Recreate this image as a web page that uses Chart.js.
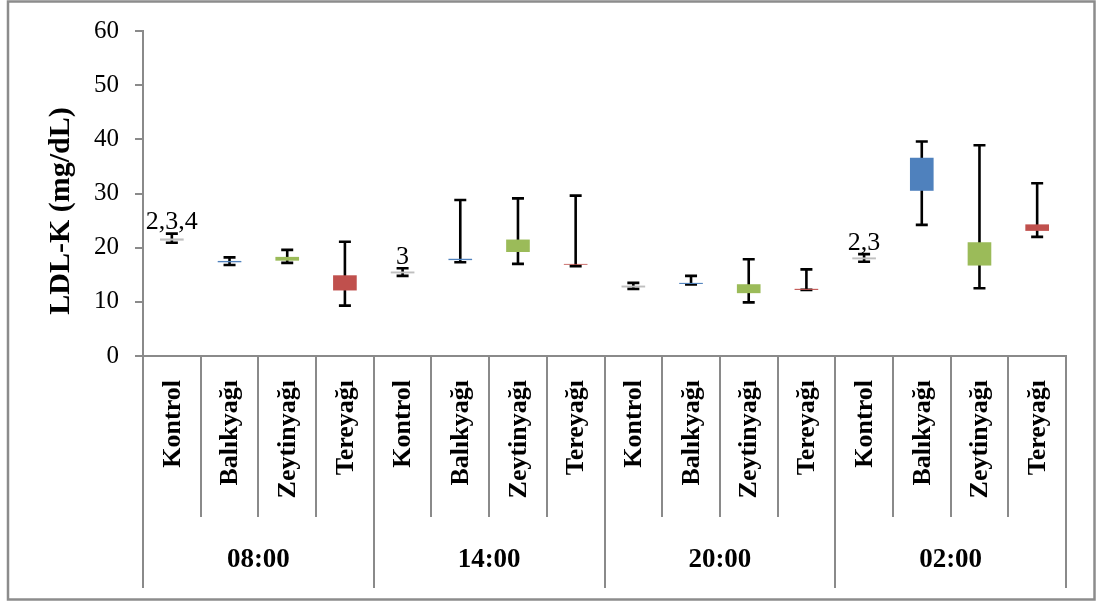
<!DOCTYPE html>
<html><head><meta charset="utf-8">
<script src="https://cdn.jsdelivr.net/npm/chart.js@4"></script>
<style>html,body{margin:0;padding:0;background:#fff}#wrap{width:1096px;height:603px;position:relative}canvas{display:block}</style>
</head><body><div id="wrap"><canvas id="c" width="1096" height="603" style="width:1096px;height:603px"></canvas></div>
<script>
// ---- data ----
const groups = ['08:00', '14:00', '20:00', '02:00'];
const treatments = ['Kontrol', 'Balıkyağı', 'Zeytinyağı', 'Tereyağı'];
const categories = groups.flatMap(g => treatments.map(t => t + ' ' + g));
// box (lower/upper edge of the coloured box)
const boxLow  = [21.3, 17.3, 17.6, 12.1,  15.25, 17.7, 19.2, 16.85,  12.65, 13.3, 11.6, 12.2,  17.85, 30.5, 16.7, 23.1];
const boxHigh = [21.7, 17.55, 18.3, 14.9, 15.6, 17.95, 21.5, 17.0,   13.0, 13.5, 13.25, 12.4,  18.2, 36.6, 21.0, 24.3];
// whiskers (min / max)
const whiskerMin = [20.9, 16.8, 17.2, 9.3,  14.8, 17.3, 17.0, 16.6,  12.4, 13.2, 9.9, 12.2,  17.4, 24.2, 12.5, 22.0];
const whiskerMax = [22.6, 18.2, 19.6, 21.1, 16.2, 28.8, 29.1, 29.6,  13.5, 14.8, 17.85, 16.0, 18.8, 39.6, 38.9, 31.9];
const annotations = ['2,3,4', '', '', '', '3', '', '', '', '', '', '', '', '2,3', '', '', ''];
const treatmentColors = ['#BFBFBF', '#4F81BD', '#9BBB59', '#C0504D'];
const yMin = 0, yMax = 60, yStep = 10;
const yTitle = 'LDL-K (mg/dL)';

const SERIF = "'Liberation Serif', 'Times New Roman', serif";
const AXIS = '#8a8a8a';

const decor = {
  id: 'decor',
  beforeDraw(chart) {
    const ctx = chart.ctx;
    ctx.save();
    ctx.fillStyle = '#fff';
    ctx.fillRect(0, 0, chart.width, chart.height);
    ctx.strokeStyle = '#8c8c8c';
    ctx.lineWidth = 2.5;
    ctx.strokeRect(8, 1.5, 1086.5, 598);
    ctx.restore();
  },
  beforeDatasetsDraw(chart) {
    const ctx = chart.ctx, y = chart.scales.y;
    const meta = chart.getDatasetMeta(0);
    ctx.save();
    ctx.strokeStyle = '#000';
    ctx.lineWidth = 2.6;
    meta.data.forEach((bar, i) => {
      const x = bar.x, y1 = y.getPixelForValue(whiskerMax[i]), y0 = y.getPixelForValue(whiskerMin[i]);
      ctx.beginPath();
      ctx.moveTo(x, y0); ctx.lineTo(x, y1);
      ctx.moveTo(x - 6, y1); ctx.lineTo(x + 6, y1);
      ctx.moveTo(x - 6, y0); ctx.lineTo(x + 6, y0);
      ctx.stroke();
    });
    ctx.restore();
  },
  afterDraw(chart) {
    const ctx = chart.ctx, xs = chart.scales.x, ys = chart.scales.y, area = chart.chartArea;
    const meta = chart.getDatasetMeta(0);
    ctx.save();
    // axis extension & separators
    ctx.strokeStyle = AXIS;
    ctx.lineWidth = 2;
    for (let i = 0; i <= categories.length; i++) {
      const x = Math.round(xs.getPixelForValue(i - 0.5));
      const end = (i % 4 === 0) ? 588 : 517;
      ctx.beginPath();
      ctx.moveTo(x, area.bottom);
      ctx.lineTo(x, end);
      ctx.stroke();
    }
    // category labels
    ctx.fillStyle = '#000';
    ctx.font = 'bold 26px ' + SERIF;
    meta.data.forEach((bar, i) => {
      ctx.save();
      ctx.translate(bar.x, 380);
      ctx.rotate(-Math.PI / 2);
      ctx.textAlign = 'right';
      ctx.textBaseline = 'middle';
      ctx.fillText(treatments[i % 4], 0, 1);
      ctx.restore();
    });
    // group labels
    ctx.font = 'bold 27px ' + SERIF;
    ctx.textAlign = 'center';
    ctx.textBaseline = 'alphabetic';
    groups.forEach((g, gi) => {
      const x = (xs.getPixelForValue(gi * 4 - 0.5) + xs.getPixelForValue(gi * 4 + 3.5)) / 2;
      ctx.fillText(g, x, 567);
    });
    // y title
    ctx.save();
    ctx.translate(61, 211);
    ctx.rotate(-Math.PI / 2);
    ctx.font = 'bold 30px ' + SERIF;
    ctx.textAlign = 'center';
    ctx.textBaseline = 'middle';
    ctx.fillText(yTitle, 0, 0);
    ctx.restore();
    // annotations
    ctx.font = '26px ' + SERIF;
    ctx.textAlign = 'center';
    ctx.textBaseline = 'alphabetic';
    annotations.forEach((a, i) => {
      if (!a) return;
      ctx.fillText(a, meta.data[i].x, ys.getPixelForValue(whiskerMax[i]) - 4.5);
    });
    ctx.restore();
  }
};

new Chart(document.getElementById('c'), {
  type: 'bar',
  data: {
    labels: categories,
    datasets: [{
      data: boxLow.map((l, i) => [l, boxHigh[i]]),
      backgroundColor: categories.map((_, i) => treatmentColors[i % 4]),
      borderWidth: 0,
      barPercentage: 0.41,
      categoryPercentage: 1
    }]
  },
  options: {
    responsive: false,
    animation: false,
    devicePixelRatio: 1,
    layout: { padding: { top: 30, right: 30, left: 0, bottom: 0 } },
    plugins: { legend: { display: false }, tooltip: { enabled: false }, title: { display: false } },
    scales: {
      x: {
        ticks: { display: false },
        grid: { display: false },
        border: { display: true, color: AXIS, width: 2 },
        afterFit(s) { s.height = 247; }
      },
      y: {
        min: yMin, max: yMax,
        ticks: { stepSize: yStep, padding: 16, color: '#000', font: { family: SERIF, size: 25 } },
        grid: { drawOnChartArea: false, drawTicks: true, tickLength: 8, color: AXIS, lineWidth: 2 },
        border: { display: true, color: AXIS, width: 2 },
        afterFit(s) { s.width = 143; }
      }
    }
  },
  plugins: [decor]
});
</script>
</body></html>
